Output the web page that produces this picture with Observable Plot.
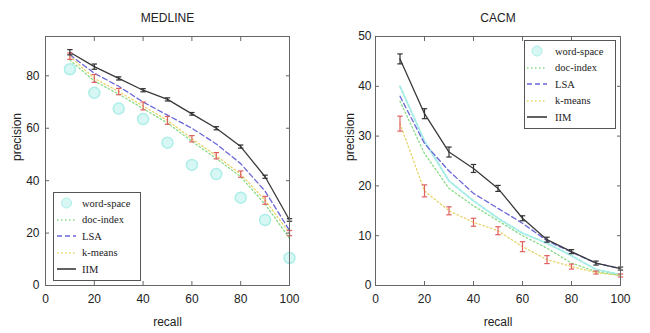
<!DOCTYPE html>
<html><head><meta charset="utf-8">
<script src="https://cdn.jsdelivr.net/npm/d3@7"></script>
<script src="https://cdn.jsdelivr.net/npm/@observablehq/plot@0.6"></script>
<style>
  body { margin: 0; background: #fff; }
  #wrap { position: relative; width: 650px; height: 333px; display: flex; }
  .legend { position: absolute; border: 1px solid #555; background: #fff;
            font-family: "Liberation Serif", serif; font-size: 10.5px; color: #222; box-sizing: border-box; }
  .legend .row { display: flex; align-items: center; height: 16.5px; }
  .legend svg { display: block; }
</style>
</head><body>
<div id="wrap"></div>
<script>
// ---------- data ----------
const recall = [10, 20, 30, 40, 50, 60, 70, 80, 90, 100];
const seriesNames = ["word-space", "doc-index", "LSA", "k-means", "IIM"];
const xTicks = [0, 20, 40, 60, 80, 100];

const medlineTitle = "MEDLINE";
const medlineWordSpace = [82.5, 73.5, 67.5, 63.5, 54.5, 46, 42.5, 33.5, 25, 10.5];
const medlineDocIndex  = [86, 78, 73, 67.5, 62, 55, 48.5, 41.5, 31, 18];
const medlineLSA       = [88, 81, 76, 70, 65, 60, 54, 46.5, 36, 21];
const medlineKMeans    = [87.5, 79, 74, 68.5, 63, 56, 49.5, 42.5, 32.5, 20];
const medlineIIM       = [89, 83.5, 79, 74.5, 71, 65.5, 60, 53, 41.5, 25];
const medlineKMeansErr = [1.2, 1.5, 1.2, 1.5, 1.5, 1.2, 1.2, 1.2, 1.5, 1];
const medlineIIMErr    = [1, 1, 0.6, 0.6, 0.6, 0.5, 0.6, 0.6, 0.6, 0.5];
const medlineYTicks = [0, 20, 40, 60, 80];
const medlineYDomain = [0, 95];

const cacmTitle = "CACM";
const cacmWordSpace = [40, 29, 21, 17, 13.5, 10.5, 8.5, 6, 3.2, 2.2];
const cacmDocIndex  = [37, 26.5, 19.5, 16, 13, 10, 7.5, 4.5, 2.8, 2];
const cacmLSA       = [38, 28.5, 23, 18.5, 15.5, 12.5, 9, 6.7, 4.5, 3.4];
const cacmKMeans    = [32.5, 19, 15, 12.7, 11, 7.8, 5.2, 3.8, 2.6, 2];
const cacmIIM       = [45.5, 34.5, 26.8, 23.5, 19.5, 13.5, 9.2, 6.8, 4.5, 3.4];
const cacmKMeansErr = [1.5, 1.2, 0.8, 0.8, 0.8, 1, 0.8, 0.5, 0.3, 0.3];
const cacmIIMErr    = [1, 1, 1, 0.8, 0.6, 0.5, 0.5, 0.4, 0.4, 0.3];
const cacmYTicks = [0, 10, 20, 30, 40, 50];
const cacmYDomain = [0, 50];

// ---------- styles ----------
const styles = {
  "word-space": {stroke: "#a6ece6", dash: "3,2", width: 2},
  "doc-index":  {stroke: "#86dc86", dash: "1.5,2.5", width: 1.3},
  "LSA":        {stroke: "#6a66d6", dash: "5,3", width: 1.3},
  "k-means":    {stroke: "#e6d468", dash: "1.5,2.5", width: 1.3},
  "IIM":        {stroke: "#3a3a3a", dash: null, width: 1.3}
};

function buildRows(arrays) {
  const rows = [];
  seriesNames.forEach((s, i) => recall.forEach((r, j) => rows.push({series: s, recall: r, value: arrays[i][j]})));
  return rows;
}
function errRows(values, errs) {
  return recall.map((r, j) => ({recall: r, value: values[j], err: errs[j]}));
}

function chart(o) {
  const rows = buildRows(o.arrays);
  const marks = [];
  for (const s of seriesNames) {
    const st = styles[s];
    if (s === "word-space" && !o.wsLine) continue;
    marks.push(Plot.line(rows.filter(d => d.series === s), {
      x: "recall", y: "value", stroke: st.stroke, strokeWidth: st.width,
      strokeDasharray: st.dash || undefined
    }));
  }
  if (o.wsR > 0) marks.push(Plot.dot(rows.filter(d => d.series === "word-space"), {
    x: "recall", y: "value", r: o.wsR, fill: "#d6f7f3", stroke: "#aeeee8", strokeWidth: 1.5
  }));
  const eb = (data, color) => [
    Plot.link(data, {x1: "recall", x2: "recall", y1: d => d.value - d.err, y2: d => d.value + d.err, stroke: color, strokeWidth: 1.2}),
    Plot.link(data, {x1: d => d.recall - 1.1, x2: d => d.recall + 1.1, y1: d => d.value - d.err, y2: d => d.value - d.err, stroke: color, strokeWidth: 1.2}),
    Plot.link(data, {x1: d => d.recall - 1.1, x2: d => d.recall + 1.1, y1: d => d.value + d.err, y2: d => d.value + d.err, stroke: color, strokeWidth: 1.2})
  ];
  marks.push(...eb(errRows(o.arrays[3], o.kErr), "#e06060"));
  marks.push(...eb(errRows(o.arrays[4], o.iErr), "#333"));
  marks.push(Plot.frame({stroke: "#666"}));
  marks.push(Plot.axisX(xTicks, {anchor: "bottom", tickSize: -4, tickPadding: 13, stroke: "#666", fontSize: 12, label: null}));
  marks.push(Plot.axisX(xTicks, {anchor: "top", tickSize: -4, tickFormat: () => "", stroke: "#666", label: null}));
  marks.push(Plot.axisY(o.yTicks, {anchor: "left", tickSize: -4, tickPadding: o.yPad, stroke: "#666", fontSize: 12, label: null}));
  marks.push(Plot.axisY(o.yTicks, {anchor: "right", tickSize: -4, tickFormat: () => "", stroke: "#666", label: null}));
  marks.push(Plot.text([o.title], {frameAnchor: "top", dy: -18, lineAnchor: "middle", fontSize: 12, fill: "#222"}));
  marks.push(Plot.text(["recall"], {frameAnchor: "bottom", dy: 37, lineAnchor: "middle", fontSize: 12, fill: "#222"}));
  marks.push(Plot.text(["precision"], {frameAnchor: "left", dx: o.ylabDx, rotate: -90, lineAnchor: "middle", fontSize: 12, fill: "#222"}));
  return Plot.plot({
    width: 325, height: 333,
    marginTop: 36, marginBottom: 48, marginLeft: o.ml, marginRight: o.mr,
    x: {domain: [0, 100]}, y: {domain: o.yDomain},
    style: {fontFamily: "'Liberation Sans', Arial, sans-serif", fontSize: "12px", background: "#fff", color: "#222"},
    marks
  });
}

function legend(left, top, w, lineX0, lineX1, textX) {
  const div = document.createElement("div");
  div.className = "legend";
  div.style.left = left + "px"; div.style.top = top + "px"; div.style.width = w + "px";
  div.style.padding = "2px 0";
  for (const s of seriesNames) {
    const st = styles[s];
    const row = document.createElement("div");
    row.className = "row";
    const svg = d3.create("svg").attr("width", textX).attr("height", 12);
    if (s === "word-space") {
      svg.append("circle").attr("cx", (lineX0 + lineX1) / 2).attr("cy", 6).attr("r", 5)
        .attr("fill", "#d6f7f3").attr("stroke", "#aeeee8");
    } else {
      svg.append("line").attr("x1", lineX0).attr("x2", lineX1).attr("y1", 6).attr("y2", 6)
        .attr("stroke", st.stroke).attr("stroke-width", st.width + 0.3)
        .attr("stroke-dasharray", st.dash);
    }
    row.appendChild(svg.node());
    const t = document.createElement("span");
    t.textContent = s;
    row.appendChild(t);
    div.appendChild(row);
  }
  return div;
}

const wrap = document.getElementById("wrap");
wrap.appendChild(chart({
  title: medlineTitle,
  arrays: [medlineWordSpace, medlineDocIndex, medlineLSA, medlineKMeans, medlineIIM],
  kErr: medlineKMeansErr, iErr: medlineIIMErr,
  yTicks: medlineYTicks, yDomain: medlineYDomain,
  ml: 45, mr: 36, yPad: 10, ylabDx: -28, wsR: 5.5, wsLine: false
}));
wrap.appendChild(chart({
  title: cacmTitle,
  arrays: [cacmWordSpace, cacmDocIndex, cacmLSA, cacmKMeans, cacmIIM],
  kErr: cacmKMeansErr, iErr: cacmIIMErr,
  yTicks: cacmYTicks, yDomain: cacmYDomain,
  ml: 50, mr: 30, yPad: 8, ylabDx: -25, wsR: 0, wsLine: true
}));
wrap.appendChild(legend(53, 192, 88, 3, 22, 28));
wrap.appendChild(legend(524, 40, 92, 2, 22, 30));
</script>
</body></html>
